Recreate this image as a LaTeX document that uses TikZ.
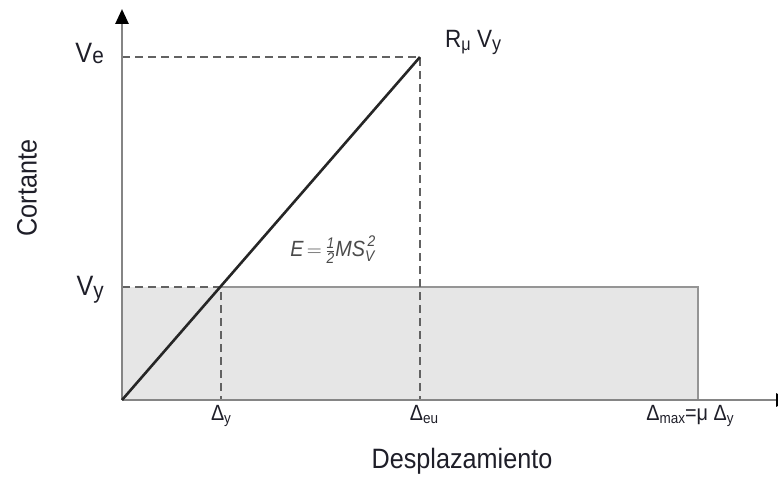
\documentclass[tikz,border=0pt]{standalone}
\usepackage{amsmath}
\usepackage{fontspec}
\setmainfont{Liberation Sans}[FakeStretch=0.9]
\usetikzlibrary{arrows.meta}
\definecolor{axisgray}{HTML}{858585}
\definecolor{dashgray}{HTML}{626262}
\definecolor{fillgray}{HTML}{E6E6E6}
\definecolor{rectgray}{HTML}{959595}
\definecolor{txt}{HTML}{1E1E28}
\definecolor{formgray}{HTML}{4A4A4A}
\begin{document}
\begin{tikzpicture}[x=1pt,y=-1pt,
  axisline/.style={draw=axisgray,line width=2.6pt,-{Triangle[length=15pt,width=13pt,black]}},
  guide/.style={draw=dashgray,line width=1.7pt,dash pattern=on 8pt off 5pt},
  big/.style={inner sep=0pt,text=txt,font=\fontsize{28}{30}\selectfont},
  small/.style={inner sep=0pt,text=txt,font=\fontsize{22}{24}\selectfont}]
\useasboundingbox (0,0) rectangle (778,478);
\coordinate (O) at (122,400);
\coordinate (Ytop) at (122,9);
\coordinate (Xend) at (791,400);
\coordinate (P) at (420,57);
\coordinate (Q) at (221,287);
\coordinate (VeA) at (122,57);
\coordinate (VyA) at (122,287);
\coordinate (Dy) at (221,400);
\coordinate (Deu) at (420,400);
\coordinate (M) at (698,287);
% shaded rectangle
\fill[fillgray] (122,287) rectangle (698,400);
\draw[rectgray,line width=2.6pt] (Q) -- (M) -- (698,400);
% guides
\draw[guide] (VeA) -- (P) -- (Deu);
\draw[guide] (VyA) -- (Q) -- (Dy);
% axes
\draw[axisline] (O) -- (Ytop);
\draw[axisline] (O) -- (Xend);
% diagonal
\draw[black!85,line width=2.6pt] (O) -- (P);
% labels
\node[big,anchor=base east] (ve) at (104,63) {V\raisebox{-1pt}{\fontsize{23}{24}\selectfont e}};
\node[big,anchor=base east] (vy) at (104,295) {V\raisebox{-3pt}{\fontsize{23}{24}\selectfont y}};
\node[inner sep=0pt,text=txt,font=\fontsize{25}{27}\selectfont,anchor=base west] (rv) at (445,48) {R\raisebox{-3pt}{\fontsize{18}{19}\selectfont μ} V\raisebox{-3pt}{\fontsize{20}{21}\selectfont y}};
\node[big,rotate=90] (cort) at (27,188) {Cortante};
\node[big,anchor=base] (desp) at (462,468) {Desplazamiento};
\node[small,anchor=base] (ly) at (221,420) {Δ\raisebox{-3pt}{\fontsize{15}{16}\selectfont y}};
\node[small,anchor=base] (leu) at (424,420) {Δ\raisebox{-3pt}{\fontsize{15}{16}\selectfont eu}};
\node[small,anchor=base] (lmax) at (690,420) {Δ\raisebox{-3pt}{\fontsize{15}{16}\selectfont max}=μ Δ\raisebox{-3pt}{\fontsize{15}{16}\selectfont y}};
\node[inner sep=0pt,text=formgray,font=\fontsize{22}{24}\selectfont] (form) at (333,250)
  {$\text{\itshape E}\,{=}\,\tfrac{\text{\itshape 1}}{\text{\itshape 2}}\text{\itshape MS}^{\,\text{\itshape 2}}_{\text{\itshape V}}$};
\end{tikzpicture}
\end{document}
